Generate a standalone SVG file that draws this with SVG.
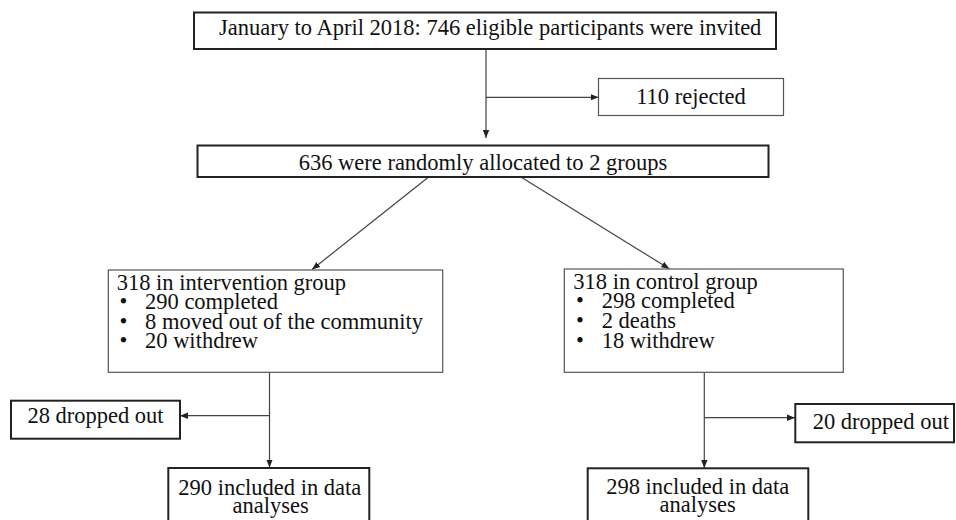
<svg xmlns="http://www.w3.org/2000/svg" width="956" height="520" viewBox="0 0 956 520">
<defs>
<marker id="ah" markerUnits="userSpaceOnUse" markerWidth="8" markerHeight="8" viewBox="0 0 8 8" refX="8" refY="4" orient="auto">
<path d="M0,0.8 L8,4 L0,7.2 Z" fill="#222"/>
</marker>
<style>
text{font-family:"Liberation Serif","Times New Roman",serif;font-size:22.5px;fill:#111}
.c{text-anchor:middle}
.thick{fill:#fff;stroke:#222;stroke-width:2}
.thin{fill:#fff;stroke:#555;stroke-width:1.2}
.ln{fill:none;stroke:#444;stroke-width:1.2}
.arr{marker-end:url(#ah)}
</style>
</defs>
<rect width="956" height="520" fill="#fff"/>
<g id="connectors">
<line class="ln arr" x1="486" y1="49" x2="486" y2="138"/>
<line class="ln arr" x1="486" y1="97.3" x2="598.5" y2="97.3"/>
<line class="ln arr" x1="428" y1="177.5" x2="312" y2="269.5"/>
<line class="ln arr" x1="521.7" y1="177.5" x2="669.3" y2="268.8"/>
<line class="ln arr" x1="269.5" y1="372.3" x2="269.5" y2="467.5"/>
<line class="ln arr" x1="269.5" y1="415.7" x2="180" y2="415.7"/>
<line class="ln arr" x1="704.3" y1="372.3" x2="704.3" y2="468"/>
<line class="ln arr" x1="704.3" y1="417.7" x2="795" y2="417.7"/>
</g>
<g id="invited">
<rect class="thick" x="194" y="12.5" width="582" height="36.5"/>
<text x="219" y="35">January to April 2018: 746 eligible participants were invited</text>
</g>
<g id="rejected">
<rect class="thin" x="598.5" y="78.5" width="185" height="37"/>
<text class="c" x="691" y="104">110 rejected</text>
</g>
<g id="allocated">
<rect class="thick" x="197.5" y="145.5" width="571" height="31.5"/>
<text class="c" x="483" y="170">636 were randomly allocated to 2 groups</text>
</g>
<g id="intervention">
<rect class="thin" x="108.3" y="270" width="334.4" height="102.3"/>
<text><tspan x="116.7" y="290">318 in intervention group</tspan><tspan x="119.5" y="309.3">•</tspan><tspan x="145" y="309.3">290 completed</tspan><tspan x="119.5" y="328.5">•</tspan><tspan x="145" y="328.5">8 moved out of the community</tspan><tspan x="119.5" y="348">•</tspan><tspan x="145" y="348">20 withdrew</tspan></text>
</g>
<g id="control">
<rect class="thin" x="564.3" y="269" width="279" height="103.3"/>
<text><tspan x="573.3" y="288.5">318 in control group</tspan><tspan x="576" y="308.3">•</tspan><tspan x="601.7" y="308.3">298 completed</tspan><tspan x="576" y="328.3">•</tspan><tspan x="601.7" y="328.3">2 deaths</tspan><tspan x="576" y="348.3">•</tspan><tspan x="601.7" y="348.3">18 withdrew</tspan></text>
</g>
<g id="dropped-left">
<rect class="thick" x="11" y="400.7" width="169" height="38"/>
<text class="c" x="95.5" y="423.3">28 dropped out</text>
</g>
<g id="dropped-right">
<rect class="thick" x="795.3" y="404" width="158.7" height="38.3"/>
<text x="812.7" y="429.3">20 dropped out</text>
</g>
<g id="included-left">
<rect class="thick" x="168.3" y="468" width="201" height="70"/>
<text class="c"><tspan x="269.8" y="495">290 included in data</tspan><tspan x="270.7" y="512.7">analyses</tspan></text>
</g>
<g id="included-right">
<rect class="thick" x="587.7" y="468.3" width="220.6" height="70"/>
<text class="c"><tspan x="697.7" y="494">298 included in data</tspan><tspan x="697.7" y="511.7">analyses</tspan></text>
</g>
</svg>
